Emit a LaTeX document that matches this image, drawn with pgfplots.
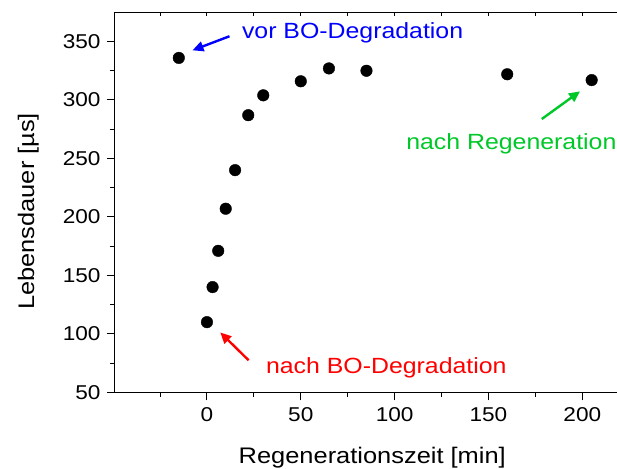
\documentclass[border=0pt]{standalone}
\usepackage{fontspec}
\setmainfont{Liberation Sans}
\usepackage{pgfplots}
\pgfplotsset{compat=1.18}
\usetikzlibrary{arrows.meta}

\definecolor{annblue}{RGB}{0,0,255}
\definecolor{annred}{RGB}{255,0,0}
\definecolor{anngreen}{RGB}{0,200,40}

% slightly wide lettering
\newcommand{\wide}[1]{\scalebox{1.13}[1]{#1}}

\begin{document}
\begin{tikzpicture}
\begin{axis}[
  name=ax,
  scale only axis, width=502pt, height=380pt,
  xmin=-49, xmax=218.5, ymin=50, ymax=375,
  axis x line*=bottom, axis y line*=left,
  axis line style={line width=1pt, -},
  xtick={0,50,...,200}, minor xtick={-25,25,75,125,175},
  ytick={50,100,...,350}, minor ytick={75,125,...,325},
  tick align=outside, major tick length=8pt, minor tick length=4.5pt,
  tick style={line width=1pt, black},
  /pgf/number format/assume math mode=true,
  tick label style={font=\fontsize{20}{24}\selectfont},
  xticklabel={\wide{\pgfmathprintnumber{\tick}}},
  yticklabel={\wide{\pgfmathprintnumber{\tick}}},
  xticklabel style={yshift=-4pt},
  yticklabel style={xshift=-3pt},
  clip=false,
  xlabel={\wide{Regenerationszeit [min]}},
  ylabel={\wide{Lebensdauer [µs]}},
  label style={font=\fontsize{22.5}{27}\selectfont},
  xlabel style={at={(axis description cs:0.5125,0)}, anchor=base, yshift=-70.7pt},
  ylabel style={at={(axis description cs:-0.1727,0.476)}, anchor=center},
]
% lifetime during regeneration
\addplot[only marks, mark=*, mark size=5.8pt, black] coordinates {
  (-15,336) (0,110) (3,140) (6,171) (10,207) (15,240) (22,287)
  (30,304) (50,316) (65,327) (85,325) (160,322) (205,317)
};

% annotations
\node[anchor=base west, text=annblue, font=\fontsize{22}{26}\selectfont, inner sep=0pt]
  at (axis cs:18.6,352.3) {\wide{vor BO-Degradation}};
\draw[annblue, line width=2.4pt, -{Triangle[length=11pt,width=10pt]}]
  (axis cs:12,354.5) -- (axis cs:-7.7,342.5);

\node[anchor=base east, text=anngreen, font=\fontsize{22}{26}\selectfont, inner sep=0pt]
  at (axis cs:218.3,257.4) {\wide{nach Regeneration}};
\draw[anngreen, line width=2.4pt, -{Triangle[length=11pt,width=10pt]}]
  (axis cs:178.4,283.7) -- (axis cs:198.8,307.4);

\node[anchor=base west, text=annred, font=\fontsize{22}{26}\selectfont, inner sep=0pt]
  at (axis cs:31.4,66.0) {\wide{nach BO-Degradation}};
\draw[annred, line width=2.4pt, -{Triangle[length=11pt,width=10pt]}]
  (axis cs:22.2,77.4) -- (axis cs:7.1,101.2);
\end{axis}

% top frame line with short inward ticks
\begin{axis}[
  at={(ax.south west)}, anchor=south west,
  scale only axis, width=502pt, height=380pt,
  xmin=-49, xmax=218.5, ymin=50, ymax=375,
  axis x line*=top, axis y line=none,
  axis line style={line width=1pt, -},
  xtick={-25,0,...,200}, xticklabels={},
  tick align=inside, major tick length=4pt,
  tick style={line width=1pt, black},
]
\end{axis}

\pgfresetboundingbox
\path ([xshift=-115pt,yshift=-76pt]ax.south west) rectangle ([yshift=12.3pt]ax.north east);
\end{tikzpicture}
\end{document}
